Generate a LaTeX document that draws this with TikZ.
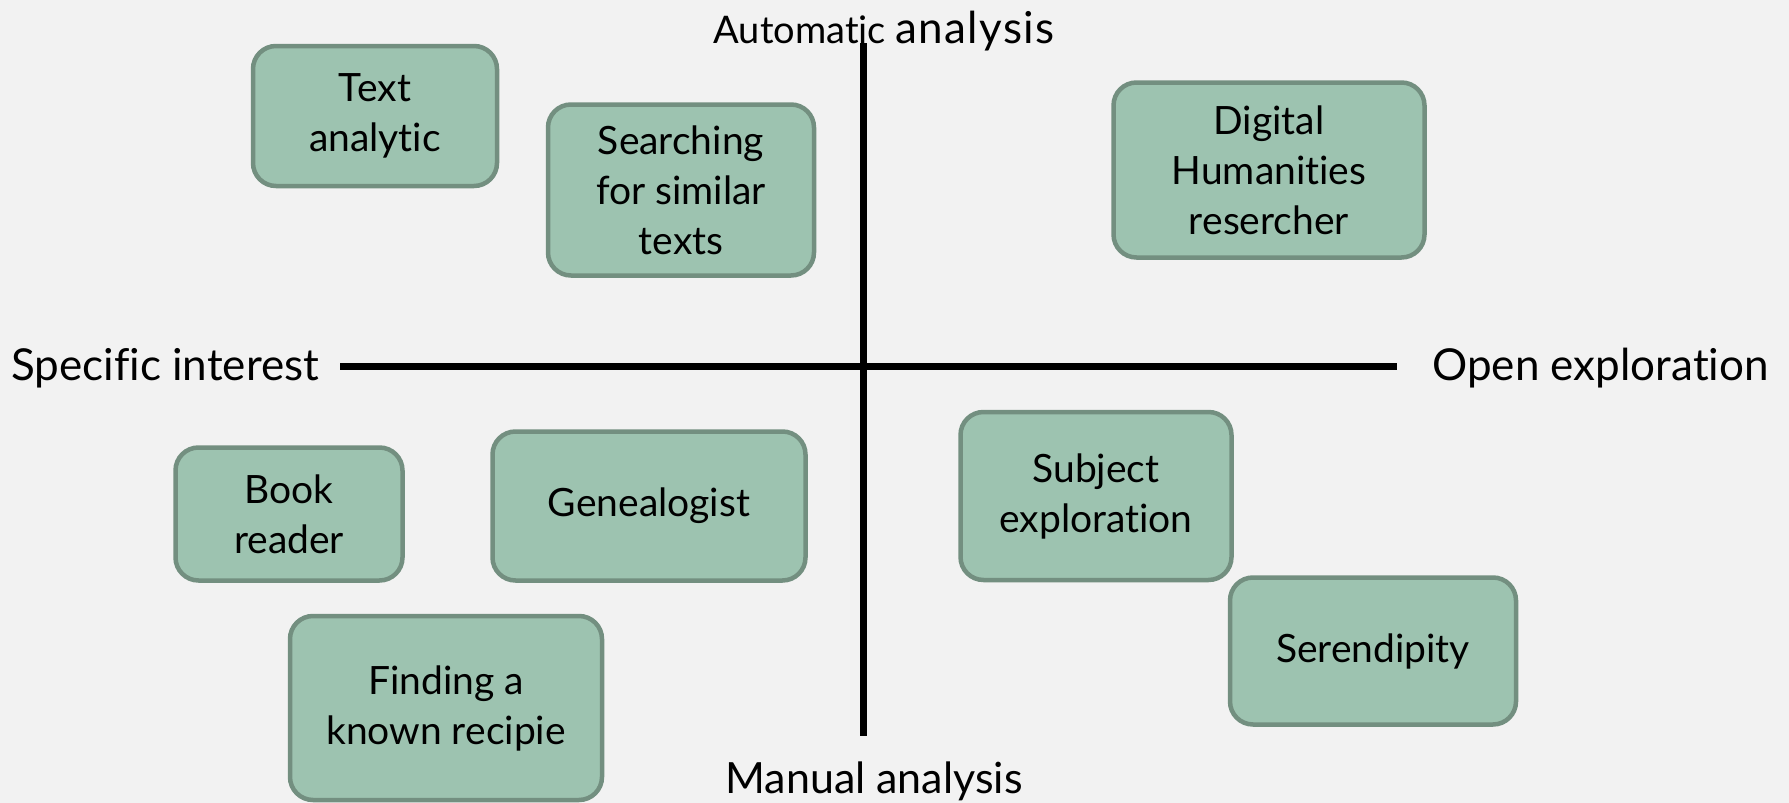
\documentclass[tikz,border=0pt]{standalone}
\usepackage{fontspec}
\setmainfont{Lato}[Ligatures={NoCommon}]
\usepackage{tikz}
\usepackage{xcolor}
\usetikzlibrary{positioning, calc}
\definecolor{pagebg}{HTML}{F2F2F2}
\definecolor{boxfill}{HTML}{9DC3B0}
\definecolor{boxline}{HTML}{738F80}
\definecolor{axisline}{HTML}{000000}

\begin{document}
\begin{tikzpicture}[x=1pt, y=-1pt,
    usecase/.style={rectangle, rounded corners=23pt, draw=boxline, fill=boxfill, line width=4.5pt, align=center, inner sep=0pt, font=\fontsize{39}{50}\selectfont},
    axislabel/.style={inner sep=0pt, font=\fontsize{44}{52}\selectfont},
    axis/.style={axisline, line width=7pt}]
    \fill[pagebg] (0,0) rectangle (1789,803);
    \useasboundingbox (0,0) rectangle (1789,803);
    % axes
    \coordinate (xl) at (340,366);
    \coordinate (xr) at (1397,366);
    \coordinate (yt) at (863,43);
    \coordinate (yb) at (863,736);
    \draw[axis] (xl) -- (xr);
    \draw[axis] (yt) -- (yb);
    % axis labels
    \node[axislabel, anchor=base] (top) at (884,43) {\fontsize{38}{46}\selectfont Automatic {\fontsize{44}{52}\selectfont\addfontfeatures{LetterSpace=3}analysis}};
    \node[axislabel, anchor=base, font=\fontsize{43}{52}\selectfont] (bottom) at (874,793) {Manual analysis};
    \node[axislabel, anchor=base west] (left) at (11,380) {Specific interest};
    \node[axislabel, anchor=base east] (right) at (1769,380) {Open exploration};
    % use cases
    \node[usecase, minimum width=244pt, minimum height=140pt] (textan) at (375,116) {Text\\analytic};
    \node[usecase, minimum width=266pt, minimum height=171pt] (similar) at (681,190) {Searching\\for similar\\texts};
    \node[usecase, minimum width=311pt, minimum height=175pt] (dh) at (1269,170) {Digital\\Humanities\\resercher};
    \node[usecase, minimum width=227pt, minimum height=133pt] (book) at (289,514) {Book\\reader};
    \node[usecase, minimum width=313pt, minimum height=149pt] (genea) at (649,506) {Genealogist};
    \node[usecase, minimum width=312pt, minimum height=184pt] (recipe) at (446,708) {Finding a\\known recipie};
    \node[usecase, minimum width=271pt, minimum height=168pt] (subject) at (1096,496) {Subject\\exploration};
    \node[usecase, minimum width=286pt, minimum height=147pt] (seren) at (1373,651) {Serendipity};
\end{tikzpicture}
\end{document}
